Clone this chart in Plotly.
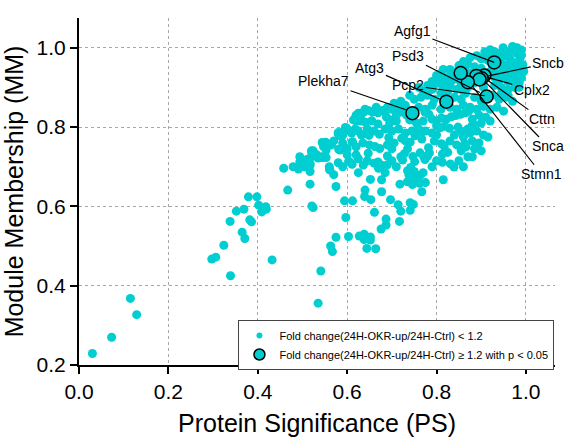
import plotly.graph_objects as go

# ---- background proteins (fold change < 1.2) ----
PS = [
    0.030,0.073,0.115,0.129,0.297,0.306,0.324,0.339,0.338,0.365,
    0.371,0.352,0.369,0.379,0.382,0.386,0.398,0.402,0.409,0.418,
    0.419,0.432,0.467,0.458,0.479,0.491,0.494,0.494,0.511,0.517,
    0.517,0.517,0.521,0.524,0.521,0.524,0.532,0.543,0.553,0.544,
    0.552,0.547,0.554,0.553,0.561,0.535,0.541,0.563,0.567,0.575,
    0.575,0.581,0.580,0.584,0.590,0.596,0.600,0.594,0.597,0.603,
    0.603,0.611,0.612,0.611,0.618,0.620,0.627,0.697,0.714,0.720,
    0.741,0.748,0.741,0.717,0.687,0.687,0.676,0.661,0.653,0.639,
    0.664,0.644,0.652,0.652,0.638,0.638,
    0.614,0.625,0.637,0.647,0.657,0.669,0.679,0.685,0.630,0.641,
    0.655,0.669,0.599,0.580,0.590,0.612,0.632,0.649,0.672,0.520,
    0.527,0.535,0.545,0.505,0.517,0.561,0.584,0.606,0.636,0.647,
    0.662,0.673,0.660,0.669,0.677,0.670,0.652,0.677,0.640,0.677,
    0.688,0.697,0.710,0.722,0.733,0.774,0.783,0.800,0.811,0.822,
    0.833,0.843,0.854,0.865,0.872,0.800,0.808,0.818,0.829,0.848,
    0.855,0.870,0.880,0.693,0.722,0.730,0.741,0.752,0.767,0.763,
    0.782,0.784,0.780,0.735,0.728,0.720,0.724,0.747,0.751,0.763,
    0.771,0.774,0.811,0.817,0.820,0.813,0.825,0.813,0.831,0.839,
    0.863,0.866,0.870,0.690,0.690,0.735,0.742,0.750,0.738,0.750,
    0.710,0.770,0.763,0.755,0.735,0.746,0.762,0.775,0.718,0.767,
    0.815,
    0.908,0.920,0.949,0.970,0.979,0.990,0.957,0.980,0.875,0.890,
    0.934,0.957,0.987,0.900,0.915,0.945,0.965,0.975,0.860,0.993,
    0.971,0.850,0.870,0.885,0.900,0.940,0.955,0.985,0.995,0.830,
    0.845,0.810,0.825,0.840,0.860,0.875,0.895,0.920,0.935,0.950,
    0.965,0.978,0.990,0.805,0.940,0.960,0.985,0.780,0.790,0.800,
    0.815,0.830,0.845,0.855,0.870,0.885,0.930,0.945,0.960,0.975,
    0.770,0.760,0.740,0.750,0.765,0.780,0.795,0.810,0.840,0.855,
    0.865,0.885,0.900,0.925,0.940,0.955,0.970,0.720,0.705,0.730,
    0.690,0.700,0.715,0.760,0.775,0.790,0.810,0.830,0.845,0.860,
    0.875,0.890,0.905,0.920,0.935,0.950,0.665,0.640,0.620,0.630,
    0.695,0.710,0.740,0.755,0.770,0.790,0.880,0.895,0.910,0.920,
    0.885,0.900,0.610,0.625,0.645,0.660,0.685,0.700,0.715,0.730,
    0.745,0.760,0.775,0.790,0.800,0.840,0.860,0.875,0.890,0.905,
    0.915,0.880,0.895,0.570,0.565,0.590,0.600,0.620,0.635,0.650,
    0.690,0.700,0.705,0.795,0.830,0.845,0.855,0.885,0.900,0.880,
    0.620,0.600,0.560,0.580,0.590,0.625,0.645,0.700,0.790,0.800,
    0.850,0.860,0.570,0.625,0.685,
    0.915,0.930,0.945,0.960,0.975,0.990,0.925,0.950,0.965,0.980,
    0.910,0.930,0.955,0.970,0.985,0.875,0.890,0.905,0.960,0.945,
    0.820,0.835,0.850,0.865,0.800,0.815,0.790,0.825,0.860,0.870,
]
MM = [
    0.229,0.270,0.368,0.327,0.467,0.472,0.502,0.425,0.562,0.535,
    0.519,0.588,0.593,0.624,0.566,0.561,0.624,0.603,0.586,0.599,
    0.593,0.465,0.641,0.696,0.700,0.694,0.712,0.725,0.719,0.704,
    0.688,0.656,0.601,0.597,0.734,0.740,0.730,0.725,0.723,0.761,
    0.762,0.751,0.752,0.742,0.693,0.356,0.437,0.500,0.486,0.522,
    0.650,0.744,0.783,0.778,0.788,0.799,0.791,0.614,0.572,0.524,
    0.713,0.706,0.614,0.762,0.795,0.816,0.525,0.617,0.604,0.588,
    0.609,0.605,0.590,0.562,0.568,0.553,0.543,0.585,0.617,0.625,
    0.493,0.494,0.523,0.515,0.516,0.530,
    0.818,0.835,0.838,0.842,0.838,0.836,0.842,0.838,0.815,0.812,
    0.816,0.808,0.797,0.786,0.780,0.763,0.780,0.779,0.782,0.740,
    0.727,0.722,0.723,0.700,0.708,0.692,0.742,0.712,0.704,0.734,
    0.751,0.746,0.709,0.712,0.704,0.696,0.668,0.667,0.641,0.637,
    0.825,0.818,0.830,0.838,0.830,0.838,0.832,0.815,0.823,0.820,
    0.826,0.829,0.832,0.836,0.840,0.803,0.798,0.802,0.797,0.800,
    0.789,0.795,0.805,0.773,0.772,0.765,0.762,0.778,0.770,0.781,
    0.748,0.735,0.727,0.745,0.733,0.725,0.717,0.726,0.713,0.735,
    0.726,0.718,0.758,0.752,0.740,0.732,0.736,0.711,0.707,0.699,
    0.758,0.750,0.725,0.727,0.705,0.690,0.698,0.688,0.680,0.672,
    0.700,0.685,0.678,0.672,0.662,0.655,0.658,0.660,0.656,0.637,
    0.667,
    0.990,0.995,1.000,1.003,0.986,0.994,0.990,1.000,0.975,0.980,
    0.978,0.982,0.974,0.972,0.968,0.972,0.970,0.962,0.965,0.957,
    0.949,0.955,0.958,0.952,0.948,0.958,0.955,0.945,0.940,0.945,
    0.940,0.935,0.925,0.930,0.925,0.935,0.940,0.940,0.935,0.928,
    0.935,0.930,0.925,0.920,0.918,0.915,0.912,0.905,0.895,0.910,
    0.900,0.905,0.895,0.910,0.900,0.912,0.905,0.900,0.895,0.900,
    0.890,0.900,0.880,0.870,0.875,0.880,0.870,0.885,0.875,0.870,
    0.885,0.875,0.865,0.880,0.870,0.875,0.865,0.865,0.860,0.855,
    0.850,0.845,0.850,0.850,0.845,0.855,0.845,0.850,0.845,0.855,
    0.850,0.845,0.852,0.845,0.850,0.840,0.850,0.845,0.830,0.825,
    0.810,0.815,0.818,0.810,0.815,0.820,0.820,0.830,0.825,0.815,
    0.805,0.810,0.785,0.790,0.795,0.790,0.795,0.790,0.795,0.785,
    0.790,0.795,0.790,0.785,0.780,0.780,0.775,0.785,0.790,0.780,
    0.775,0.765,0.760,0.765,0.755,0.760,0.745,0.750,0.760,0.755,
    0.755,0.745,0.760,0.765,0.765,0.755,0.740,0.745,0.740,0.725,
    0.730,0.730,0.700,0.710,0.700,0.720,0.715,0.715,0.700,0.715,
    0.715,0.700,0.680,0.685,0.685,
    0.985,0.990,0.988,0.978,0.990,0.982,0.955,0.945,0.960,0.950,
    0.935,0.925,0.940,0.920,0.900,0.915,0.925,0.900,0.880,0.885,
    0.915,0.918,0.920,0.940,0.930,0.945,0.915,0.890,0.890,0.915,
]

# ---- highlighted proteins (fold change >= 1.2, p < 0.05) ----
HL_GENES = ["Agfg1", "Sncb", "Cplx2", "Cttn", "Snca", "Stmn1", "Psd3", "Atg3", "Pcp2", "Plekha7"]
HL_PS = [0.929, 0.907, 0.901, 0.889, 0.896, 0.870, 0.854, 0.822, 0.912, 0.746]
HL_MM = [0.963, 0.930, 0.923, 0.929, 0.920, 0.913, 0.936, 0.864, 0.877, 0.835]
# label text positions and leader-line end points (data units)
LBL_X = [0.746, 1.050, 1.013, 1.035, 1.050, 1.035, 0.737, 0.651, 0.737, 0.547]
LBL_Y = [1.041, 0.961, 0.894, 0.820, 0.751, 0.681, 0.978, 0.948, 0.906, 0.915]
END_X = [0.929, 0.916, 0.912, 0.912, 0.908, 0.882, 0.897, 0.808, 0.908, 0.733]
END_Y = [0.963, 0.929, 0.926, 0.920, 0.915, 0.900, 0.887, 0.870, 0.879, 0.843]

X_TICKS = [0.0, 0.2, 0.4, 0.6, 0.8, 1.0]
Y_TICKS = [0.2, 0.4, 0.6, 0.8, 1.0]

CYAN = "#00CED1"
FONT = "Arial, Liberation Sans, Helvetica, sans-serif"

fig = go.Figure()
fig.add_trace(go.Scatter(
    x=PS, y=MM, mode="markers", showlegend=False,
    marker=dict(color=CYAN, size=9, line=dict(width=0)),
))
fig.add_trace(go.Scatter(
    x=HL_PS, y=HL_MM, mode="markers", showlegend=False, text=HL_GENES,
    marker=dict(color=CYAN, size=13, line=dict(color="black", width=1.5)),
))
# legend entries
fig.add_trace(go.Scatter(
    x=[None], y=[None], mode="markers",
    name="Fold change(24H-OKR-up/24H-Ctrl) < 1.2",
    marker=dict(color=CYAN, size=6, line=dict(width=0)),
))
fig.add_trace(go.Scatter(
    x=[None], y=[None], mode="markers",
    name="Fold change(24H-OKR-up/24H-Ctrl) \u2265 1.2 with p < 0.05",
    marker=dict(color=CYAN, size=11, line=dict(color="black", width=1.5)),
))

for g, lx, ly, ex, ey in zip(HL_GENES, LBL_X, LBL_Y, END_X, END_Y):
    fig.add_annotation(
        x=ex, y=ey, ax=lx, ay=ly, xref="x", yref="y", axref="x", ayref="y",
        text=g, showarrow=True, arrowhead=0, arrowwidth=1.2, arrowcolor="black",
        standoff=0, startstandoff=0,
        font=dict(family=FONT, size=14, color="black"),
    )

axis_common = dict(
    showline=True, linecolor="black", linewidth=2, mirror=False,
    ticks="outside", ticklen=7, tickwidth=2, tickcolor="black",
    showgrid=True, gridcolor="#a8a8a8", griddash="dot", gridwidth=1,
    zeroline=False, automargin=False,
    tickfont=dict(family=FONT, size=21, color="black"),
)
fig.update_xaxes(range=[0, 1.065], tickvals=X_TICKS, tickformat=".1f",
                 title=dict(text="Protein Significance (PS)", standoff=12,
                            font=dict(family=FONT, size=25, color="black")),
                 **axis_common)
fig.update_yaxes(range=[0.2, 1.075], tickvals=Y_TICKS, tickformat=".1f",
                 title=dict(text="Module Membership (MM)", standoff=8,
                            font=dict(family=FONT, size=25, color="black")),
                 **axis_common)

fig.update_layout(
    width=571, height=437,
    margin=dict(l=79, r=16, t=18, b=72, autoexpand=False),
    paper_bgcolor="white", plot_bgcolor="white",
    font=dict(family=FONT, color="black"),
    legend=dict(x=0.335, y=0.0576, xanchor="left", yanchor="middle",
                bgcolor="white", bordercolor="#444", borderwidth=1,
                font=dict(family=FONT, size=11, color="black")),
)
fig.write_html(
    "out.html",
    config={"displayModeBar": False},
    post_script="document.body.style.margin='0px';document.body.style.overflow='hidden';",
)
